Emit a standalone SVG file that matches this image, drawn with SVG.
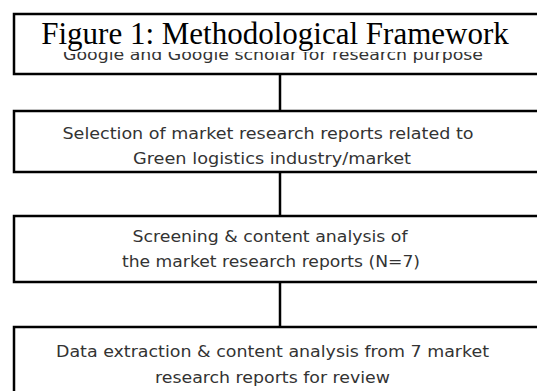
<svg xmlns="http://www.w3.org/2000/svg" width="537" height="391" viewBox="0 0 537 391">
<style>
.box{fill:#fff;stroke:#000;stroke-width:2.5}
.t{font-family:"DejaVu Sans","Noto Sans",sans-serif;font-size:16px;fill:#333;text-anchor:middle}
.title{font-family:"Liberation Serif","Times New Roman",serif;font-size:31px;fill:#000;text-anchor:middle}
.c{stroke:#000;stroke-width:2.5;fill:none}
</style>
<rect width="537" height="391" fill="#fff"/>
<g id="connectors">
<line class="c" x1="280" y1="74" x2="280" y2="111"/>
<line class="c" x1="280" y1="172" x2="280" y2="216"/>
<line class="c" x1="280" y1="282" x2="280" y2="327"/>
</g>
<g id="node1">
<rect class="box" x="14" y="14" width="540" height="60"/>
<text class="t" x="273" y="60" textLength="420" lengthAdjust="spacingAndGlyphs">Google and Google scholar for research purpose</text>
<rect x="16" y="16" width="530" height="36" fill="#fff"/>
<text class="title" x="275" y="44">Figure 1: Methodological Framework</text>
</g>
<g id="node2">
<rect class="box" x="14" y="111" width="540" height="61"/>
<text class="t" x="268" y="138.5" textLength="411" lengthAdjust="spacingAndGlyphs">Selection of market research reports related to</text>
<text class="t" x="272" y="163.5" textLength="278" lengthAdjust="spacingAndGlyphs">Green logistics industry/market</text>
</g>
<g id="node3">
<rect class="box" x="14" y="216" width="540" height="66"/>
<text class="t" x="270" y="242" textLength="275" lengthAdjust="spacingAndGlyphs">Screening &amp; content analysis of</text>
<text class="t" x="271" y="267" textLength="298" lengthAdjust="spacingAndGlyphs">the market research reports (N=7)</text>
</g>
<g id="node4">
<rect class="box" x="14" y="327" width="540" height="80"/>
<text class="t" x="272.5" y="357" textLength="433" lengthAdjust="spacingAndGlyphs">Data extraction &amp; content analysis from 7 market</text>
<text class="t" x="272.5" y="383" textLength="235" lengthAdjust="spacingAndGlyphs">research reports for review</text>
</g>
</svg>
